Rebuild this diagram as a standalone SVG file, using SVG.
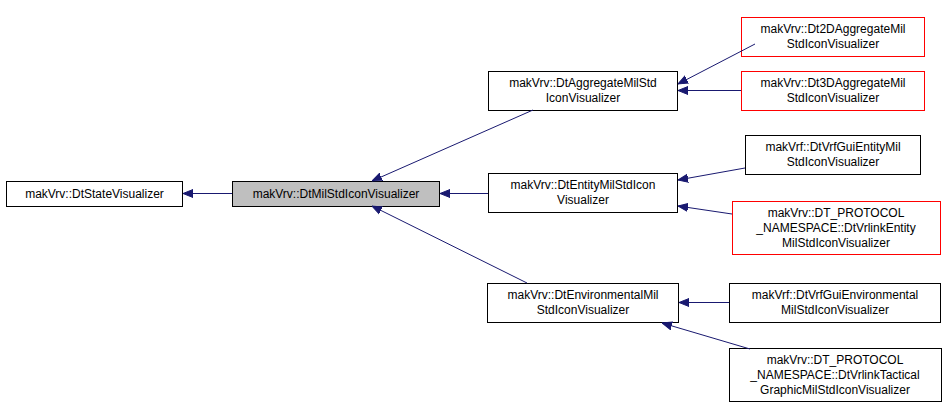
<svg xmlns="http://www.w3.org/2000/svg" width="947" height="409" viewBox="0 0 947 409">
<style>
.n rect{fill:#fff;stroke:#000;stroke-width:1}
.r rect{stroke:#f00}
.g rect{fill:#bfbfbf}
text{font-family:"Liberation Sans",Arial,sans-serif;font-size:12px;text-anchor:middle;fill:#000}
.e line{stroke:#191970;stroke-width:1}
</style>
<defs><marker id="a" viewBox="0 0 10 10" refX="10" refY="5" markerWidth="10" markerHeight="10" markerUnits="userSpaceOnUse" orient="auto"><path d="M0,1 L10,5 L0,9 Z" fill="#191970" stroke="#191970"/></marker></defs>
<g id="n1" class="n"><rect x="6.5" y="181.5" width="176" height="25"/><text x="94.5" y="198">makVrv::DtStateVisualizer</text></g>
<g id="n2" class="n g"><rect x="232.5" y="181.5" width="207" height="25"/><text x="336" y="198">makVrv::DtMilStdIconVisualizer</text></g>
<g id="n3" class="n"><rect x="488.5" y="71.5" width="189" height="39"/><text x="583" y="87">makVrv::DtAggregateMilStd</text><text x="583" y="102">IconVisualizer</text></g>
<g id="n4" class="n"><rect x="488.5" y="173.5" width="189" height="39"/><text x="583" y="189">makVrv::DtEntityMilStdIcon</text><text x="583" y="204">Visualizer</text></g>
<g id="n5" class="n"><rect x="487.5" y="283.5" width="191" height="39"/><text x="583" y="299">makVrv::DtEnvironmentalMil</text><text x="583" y="314">StdIconVisualizer</text></g>
<g id="n6" class="n r"><rect x="741.5" y="17.5" width="183" height="39"/><text x="833" y="33">makVrv::Dt2DAggregateMil</text><text x="833" y="48">StdIconVisualizer</text></g>
<g id="n7" class="n r"><rect x="741.5" y="71.5" width="183" height="39"/><text x="833" y="87">makVrv::Dt3DAggregateMil</text><text x="833" y="102">StdIconVisualizer</text></g>
<g id="n8" class="n"><rect x="745.5" y="135.5" width="175" height="39"/><text x="833" y="151">makVrf::DtVrfGuiEntityMil</text><text x="833" y="166">StdIconVisualizer</text></g>
<g id="n9" class="n r"><rect x="732.5" y="201.5" width="208" height="53"/><text x="836" y="217">makVrv::DT_PROTOCOL</text><text x="836" y="232">_NAMESPACE::DtVrlinkEntity</text><text x="836" y="247">MilStdIconVisualizer</text></g>
<g id="n10" class="n"><rect x="729.5" y="283.5" width="211" height="39"/><text x="835" y="299">makVrf::DtVrfGuiEnvironmental</text><text x="835" y="314">MilStdIconVisualizer</text></g>
<g id="n11" class="n"><rect x="729.5" y="348.5" width="212" height="53"/><text x="835" y="364">makVrv::DT_PROTOCOL</text><text x="835" y="379">_NAMESPACE::DtVrlinkTactical</text><text x="835" y="394">GraphicMilStdIconVisualizer</text></g>
<g class="e" marker-end="url(#a)">
<line x2="183" y2="193.5" x1="232" y1="193.5" marker-end="url(#a)"/>
<line x2="440" y2="193.5" x1="488" y1="193.5" marker-end="url(#a)"/>
<line x2="372" y2="181" x1="533" y1="110" marker-end="url(#a)"/>
<line x2="372" y2="206" x1="527" y1="283" marker-end="url(#a)"/>
<line x2="678" y2="84" x1="755" y1="44" marker-end="url(#a)"/>
<line x2="678" y2="90.5" x1="741" y1="90.5" marker-end="url(#a)"/>
<line x2="678" y2="180" x1="745" y1="168" marker-end="url(#a)"/>
<line x2="678" y2="206" x1="732" y1="214" marker-end="url(#a)"/>
<line x2="679" y2="302.5" x1="729" y1="302.5" marker-end="url(#a)"/>
<line x2="662" y2="323" x1="750" y1="349" marker-end="url(#a)"/>
</g>
</svg>
